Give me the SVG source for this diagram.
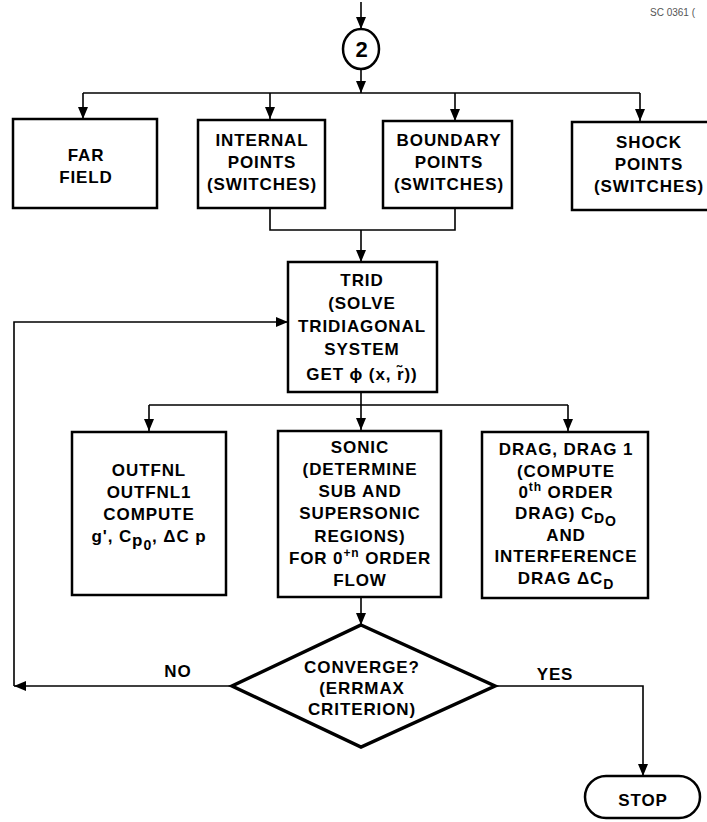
<svg xmlns="http://www.w3.org/2000/svg" width="707" height="822" viewBox="0 0 707 822">
<style>
.box{fill:#fff;stroke:#000;stroke-width:2.5}
.dia{fill:#fff;stroke:#000;stroke-width:3.5;stroke-linejoin:miter}
.ln{fill:none;stroke:#000;stroke-width:1.6}
text{font-family:"Liberation Sans",Arial,sans-serif;font-weight:bold;font-size:17px;letter-spacing:0.9px;fill:#000;text-anchor:middle}
.sm{font-size:10px;font-weight:normal;letter-spacing:0;fill:#555;text-anchor:start}
.sub{font-size:14px}
.sup{font-size:12px}
</style>
<defs>
<marker id="ah" viewBox="0 0 12 10" refX="12" refY="5" markerWidth="12" markerHeight="10" markerUnits="userSpaceOnUse" orient="auto">
<path d="M0,0 L12,5 L0,10 z" fill="#000"/>
</marker>
</defs>
<rect width="707" height="822" fill="#fff"/>
<text class="sm" x="650" y="16">SC 0361 (</text>
<g id="connectors">
<path class="ln" d="M361,2 V29" marker-end="url(#ah)"/>
<path class="ln" d="M361,68 V93" marker-end="url(#ah)"/>
<path class="ln" d="M83,93 H640"/>
<path class="ln" d="M83,93 V119" marker-end="url(#ah)"/>
<path class="ln" d="M270,93 V119" marker-end="url(#ah)"/>
<path class="ln" d="M455,93 V121" marker-end="url(#ah)"/>
<path class="ln" d="M640,93 V121" marker-end="url(#ah)"/>
<path class="ln" d="M270,208 V230 H455 V208"/>
<path class="ln" d="M361,230 V262" marker-end="url(#ah)"/>
<path class="ln" d="M361,392 V405 M149,405 H568"/>
<path class="ln" d="M149,405 V431" marker-end="url(#ah)"/>
<path class="ln" d="M361,405 V430" marker-end="url(#ah)"/>
<path class="ln" d="M568,405 V431" marker-end="url(#ah)"/>
<path class="ln" d="M361,597 V625" marker-end="url(#ah)"/>
<path class="ln" d="M232,686 H14" marker-end="url(#ah)"/>
<path class="ln" d="M14,686 V322 H288" marker-end="url(#ah)"/>
<path class="ln" d="M495,686 H643 V776" marker-end="url(#ah)"/>
<text x="178" y="677">NO</text>
<text x="555" y="680">YES</text>
</g>
<g id="n2">
<ellipse class="box" cx="361" cy="49" rx="18" ry="20"/>
<text x="362" y="57" style="font-size:22px">2</text>
</g>
<g id="farfield">
<rect class="box" x="13" y="119" width="144" height="89"/>
<text x="86" y="161">FAR</text>
<text x="86" y="183">FIELD</text>
</g>
<g id="internal">
<rect class="box" x="198" y="120" width="127" height="88"/>
<text x="262" y="146">INTERNAL</text>
<text x="262" y="168">POINTS</text>
<text x="262" y="190">(SWITCHES)</text>
</g>
<g id="boundary">
<rect class="box" x="383" y="121" width="129" height="87"/>
<text x="449" y="146">BOUNDARY</text>
<text x="449" y="168">POINTS</text>
<text x="449" y="190">(SWITCHES)</text>
</g>
<g id="shock">
<rect class="box" x="572" y="122" width="140" height="88"/>
<text x="649" y="148">SHOCK</text>
<text x="649" y="170">POINTS</text>
<text x="649" y="192">(SWITCHES)</text>
</g>
<g id="trid">
<rect class="box" x="288" y="262" width="149" height="130"/>
<text x="362" y="286">TRID</text>
<text x="362" y="309">(SOLVE</text>
<text x="362" y="332">TRIDIAGONAL</text>
<text x="362" y="355">SYSTEM</text>
<text x="362" y="380">GET ϕ (x, r̃))</text>
</g>
<g id="outfnl">
<rect class="box" x="72" y="432" width="154" height="163"/>
<text x="149" y="476">OUTFNL</text>
<text x="149" y="498">OUTFNL1</text>
<text x="149" y="520">COMPUTE</text>
<text x="149" y="542">g', C<tspan dy="4">p</tspan><tspan dy="4" class="sub">0</tspan><tspan dy="-8">, ΔC p</tspan></text>
</g>
<g id="sonic">
<rect class="box" x="278" y="431" width="163" height="166"/>
<text x="360" y="453">SONIC</text>
<text x="360" y="475">(DETERMINE</text>
<text x="360" y="497">SUB AND</text>
<text x="360" y="519">SUPERSONIC</text>
<text x="360" y="542">REGIONS)</text>
<text x="360" y="564">FOR 0<tspan dy="-7" class="sup">+n</tspan><tspan dy="7"> ORDER</tspan></text>
<text x="360" y="586">FLOW</text>
</g>
<g id="drag">
<rect class="box" x="482" y="432" width="166" height="166"/>
<text x="566" y="455">DRAG, DRAG 1</text>
<text x="566" y="477">(COMPUTE</text>
<text x="566" y="498">0<tspan dy="-7" class="sup">th</tspan><tspan dy="7"> ORDER</tspan></text>
<text x="566" y="519">DRAG) C<tspan dy="4" class="sub">D</tspan><tspan dy="3" class="sub">O</tspan></text>
<text x="566" y="541">AND</text>
<text x="566" y="562">INTERFERENCE</text>
<text x="566" y="584">DRAG ΔC<tspan dy="5" class="sub">D</tspan></text>
</g>
<g id="converge">
<polygon class="dia" points="361,625 495,686 361,747 232,686"/>
<text x="362" y="673">CONVERGE?</text>
<text x="362" y="694">(ERRMAX</text>
<text x="362" y="715">CRITERION)</text>
</g>
<g id="stop">
<rect class="box" x="585" y="776" width="115" height="42" rx="21" ry="21"/>
<text x="643" y="806">STOP</text>
</g>
</svg>
